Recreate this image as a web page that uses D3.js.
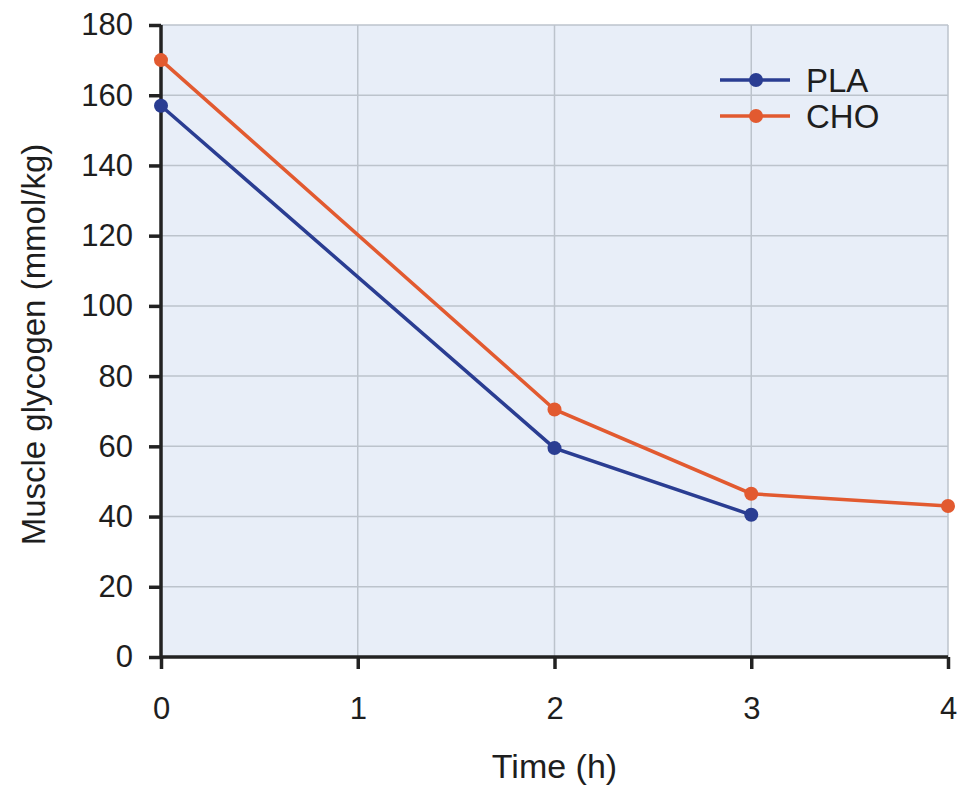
<!DOCTYPE html>
<html>
<head>
<meta charset="utf-8">
<script src="https://cdn.jsdelivr.net/npm/d3@7"></script>
<style>
  body { margin: 0; background: #fff; }
  svg text { font-family: "Liberation Sans", Arial, sans-serif; fill: #1e1e1e; }
</style>
</head>
<body>
<div id="chart"></div>
<script>
// data
var plaTime = [0, 2, 3];
var plaGlycogen = [157, 59.5, 40.5];
var choTime = [0, 2, 3, 4];
var choGlycogen = [170, 70.5, 46.5, 43];
var xTicks = [0, 1, 2, 3, 4];
var yTicks = [0, 20, 40, 60, 80, 100, 120, 140, 160, 180];

var width = 957, height = 785;
var margin = {left: 161, right: 9, top: 25, bottom: 128};

var svg = d3.select("#chart").append("svg")
    .attr("width", width)
    .attr("height", height);

var xScale = d3.scaleLinear()
  .domain([0, 4])
  .range([margin.left, width - margin.right]);

var yScale = d3.scaleLinear()
  .domain([0, 180])
  .range([height - margin.bottom, margin.top]);

// plot background
svg.append("rect")
  .attr("x", xScale(0))
  .attr("y", yScale(180))
  .attr("width", xScale(4) - xScale(0))
  .attr("height", yScale(0) - yScale(180))
  .style("fill", "#e8eef8");

// grid
svg.selectAll(".hgrid")
  .data(yTicks.slice(1))
 .enter()
  .append("line")
  .attr("class", "hgrid")
  .attr("x1", xScale(0)).attr("x2", xScale(4))
  .attr("y1", function(d) { return yScale(d); })
  .attr("y2", function(d) { return yScale(d); })
  .style("stroke", "#bcc3cc")
  .style("stroke-width", 1.5);

svg.selectAll(".vgrid")
  .data(xTicks.slice(1))
 .enter()
  .append("line")
  .attr("class", "vgrid")
  .attr("y1", yScale(0)).attr("y2", yScale(180))
  .attr("x1", function(d) { return xScale(d); })
  .attr("x2", function(d) { return xScale(d); })
  .style("stroke", "#bcc3cc")
  .style("stroke-width", 1.5);

// axes
var xAxis = d3.axisBottom(xScale)
  .tickValues(xTicks)
  .tickSize(12)
  .tickPadding(28)
  .tickFormat(d3.format("d"));

var yAxis = d3.axisLeft(yScale)
  .tickValues(yTicks)
  .tickSize(12)
  .tickPadding(16);

var gx = svg.append("g")
  .attr("class", "x axis")
  .attr("transform", "translate(0," + yScale(0) + ")")
  .call(xAxis);

var gy = svg.append("g")
  .attr("class", "y axis")
  .attr("transform", "translate(" + xScale(0) + ",0)")
  .call(yAxis);

[gx, gy].forEach(function(g) {
  g.select(".domain").style("stroke", "#222").style("stroke-width", 3.5);
  g.selectAll(".tick line").style("stroke", "#222").style("stroke-width", 3.5);
  g.selectAll(".tick text")
    .style("font-size", "31px")
    .style("font-family", "'Liberation Sans', Arial, sans-serif")
    .style("fill", "#1e1e1e");
});
gx.select(".domain").attr("d", "M" + xScale(0) + ",0H" + xScale(4));
gy.select(".domain").attr("d", "M0," + yScale(0) + "V" + yScale(180));

// axis titles
svg.append("text")
  .attr("text-anchor", "middle")
  .attr("x", xScale(2))
  .attr("y", 778)
  .text("Time (h)")
  .style("font-size", "34px");

svg.append("text")
  .attr("text-anchor", "middle")
  .attr("transform", "translate(45," + yScale(89) + ") rotate(-90)")
  .text("Muscle glycogen (mmol/kg)")
  .style("font-size", "33px");

// series
var series = [
  {name: "PLA", color: "#2a3d92", x: plaTime, y: plaGlycogen},
  {name: "CHO", color: "#e25a30", x: choTime, y: choGlycogen}
];

var line = d3.line()
  .x(function(d) { return xScale(d[0]); })
  .y(function(d) { return yScale(d[1]); });

series.forEach(function(s) {
  var pts = s.x.map(function(t, i) { return [t, s.y[i]]; });
  svg.append("path")
    .datum(pts)
    .attr("d", line)
    .style("fill", "none")
    .style("stroke", s.color)
    .style("stroke-width", 3.5);
  svg.selectAll(".pt-" + s.name)
    .data(pts)
   .enter()
    .append("circle")
    .attr("cx", function(d) { return xScale(d[0]); })
    .attr("cy", function(d) { return yScale(d[1]); })
    .attr("r", 7)
    .style("fill", s.color);
});

// legend
var legend = svg.append("g").attr("transform", "translate(720,80)");
series.forEach(function(s, i) {
  var g = legend.append("g").attr("transform", "translate(0," + (i * 36) + ")");
  g.append("line")
    .attr("x1", 0).attr("x2", 70)
    .style("stroke", s.color)
    .style("stroke-width", 3.5);
  g.append("circle")
    .attr("cx", 36).attr("r", 7)
    .style("fill", s.color);
  g.append("text")
    .attr("x", 86).attr("y", 12)
    .text(s.name)
    .style("font-size", "33px");
});
</script>
</body>
</html>
